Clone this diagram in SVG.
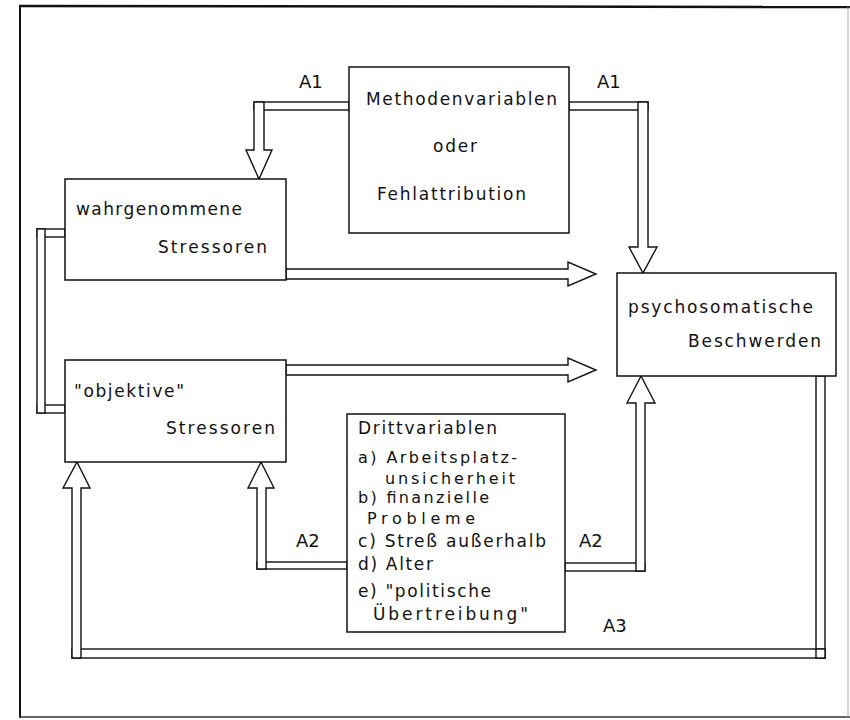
<svg xmlns="http://www.w3.org/2000/svg" width="850" height="720" viewBox="0 0 850 720">
<style>
  .box { fill: #ffffff; stroke: #111111; stroke-width: 1.5; }
  .conn { fill: #ffffff; stroke: #111111; stroke-width: 1.4; stroke-linejoin: miter; }
  .t { font-family: "DejaVu Sans", "Liberation Sans", sans-serif; font-size: 17px; fill: #111111; }
  .d { font-family: "DejaVu Sans", "Liberation Sans", sans-serif; font-size: 16px; fill: #111111; }
  .lbl { font-family: "DejaVu Sans", "Liberation Sans", sans-serif; font-size: 18px; fill: #111111; }
</style>
<rect x="0" y="0" width="850" height="720" fill="#ffffff"/>
<g id="frame">
  <line x1="19" y1="6" x2="850" y2="7" stroke="#111" stroke-width="2.5"/>
  <line x1="20" y1="5" x2="20" y2="718" stroke="#111" stroke-width="2"/>
  <line x1="19" y1="717" x2="850" y2="717" stroke="#333" stroke-width="1.5"/>
  <line x1="848" y1="7" x2="848" y2="717" stroke="#aaa" stroke-width="1"/>
</g>
<g id="connectors">
  <!-- A1 left -->
  <rect class="conn" x="254" y="102" width="95" height="8"/>
  <path class="conn" d="M254,102 V150 H246 L259,179 L272,150 H264 V102 Z"/>
  <!-- A1 right -->
  <rect class="conn" x="569" y="102" width="79" height="8"/>
  <path class="conn" d="M638,102 V247 H629 L643,273 L657,247 H648 V102 Z"/>
  <!-- wahrgenommene -> psychosomatische -->
  <path class="conn" d="M286,269 H568 V262 L596,274 L568,286 V279 H286 Z"/>
  <!-- objektive -> psychosomatische -->
  <path class="conn" d="M286,365 H568 V358 L596,370 L568,382 V375 H286 Z"/>
  <!-- link wahrgenommene / objektive -->
  <rect class="conn" x="37" y="229" width="28" height="8"/>
  <rect class="conn" x="37" y="405" width="28" height="8"/>
  <rect class="conn" x="37" y="229" width="8" height="184"/>
  <!-- A2 left -->
  <rect class="conn" x="257" y="562" width="90" height="7"/>
  <path class="conn" d="M257,569 V488 H248 L261,462 L274,488 H266 V569 Z"/>
  <!-- A2 right -->
  <rect class="conn" x="565" y="563" width="80" height="8"/>
  <path class="conn" d="M636,571 V403 H627 L641,376 L655,403 H645 V571 Z"/>
  <!-- A3 -->
  <rect class="conn" x="816" y="376" width="9" height="282"/>
  <rect class="conn" x="72" y="649" width="753" height="9"/>
  <path class="conn" d="M72,658 V488 H63 L77,462 L90,488 H81 V658 Z"/>
  <rect class="conn" x="816" y="649" width="9" height="9" fill="none"/>
</g>
<g id="node-methoden">
  <rect class="box" x="349" y="67" width="220" height="166"/>
  <text class="t" x="366" y="105" textLength="191" lengthAdjust="spacing">Methodenvariablen</text>
  <text class="t" x="433" y="152" textLength="44" lengthAdjust="spacing">oder</text>
  <text class="t" x="377" y="200" textLength="149" lengthAdjust="spacing">Fehlattribution</text>
</g>
<g id="node-wahrgenommene">
  <rect class="box" x="65" y="179" width="221" height="101"/>
  <text class="t" x="76" y="215" textLength="166" lengthAdjust="spacing">wahrgenommene</text>
  <text class="t" x="158" y="253" textLength="109" lengthAdjust="spacing">Stressoren</text>
</g>
<g id="node-objektive">
  <rect class="box" x="65" y="360" width="221" height="102"/>
  <text class="t" x="74" y="397" textLength="110" lengthAdjust="spacing">"objektive"</text>
  <text class="t" x="166" y="434" textLength="109" lengthAdjust="spacing">Stressoren</text>
</g>
<g id="node-psychosomatische">
  <rect class="box" x="617" y="273" width="219" height="103"/>
  <text class="t" x="628" y="313" textLength="185" lengthAdjust="spacing">psychosomatische</text>
  <text class="t" x="688" y="347" textLength="133" lengthAdjust="spacing">Beschwerden</text>
</g>
<g id="node-dritt">
  <rect class="box" x="347" y="414" width="218" height="218"/>
  <text class="t" x="358" y="434" textLength="139" lengthAdjust="spacing">Drittvariablen</text>
  <text class="d" x="358" y="463" textLength="159" lengthAdjust="spacing">a) Arbeitsplatz-</text>
  <text class="d" x="385" y="484" textLength="130" lengthAdjust="spacing">unsicherheit</text>
  <text class="d" x="358" y="503" textLength="131" lengthAdjust="spacing">b) finanzielle</text>
  <text class="d" x="367" y="524" textLength="108" lengthAdjust="spacing">Probleme</text>
  <text class="t" x="358" y="547" textLength="188" lengthAdjust="spacing">c) Streß außerhalb</text>
  <text class="t" x="358" y="570" textLength="75" lengthAdjust="spacing">d) Alter</text>
  <text class="t" x="358" y="597" textLength="133" lengthAdjust="spacing">e) "politische</text>
  <text class="t" x="373" y="620" textLength="155" lengthAdjust="spacing">Übertreibung"</text>
</g>
<g id="labels">
  <text class="lbl" x="299" y="88">A1</text>
  <text class="lbl" x="597" y="88">A1</text>
  <text class="lbl" x="296" y="547">A2</text>
  <text class="lbl" x="579" y="547">A2</text>
  <text class="lbl" x="603" y="632">A3</text>
</g>
</svg>
